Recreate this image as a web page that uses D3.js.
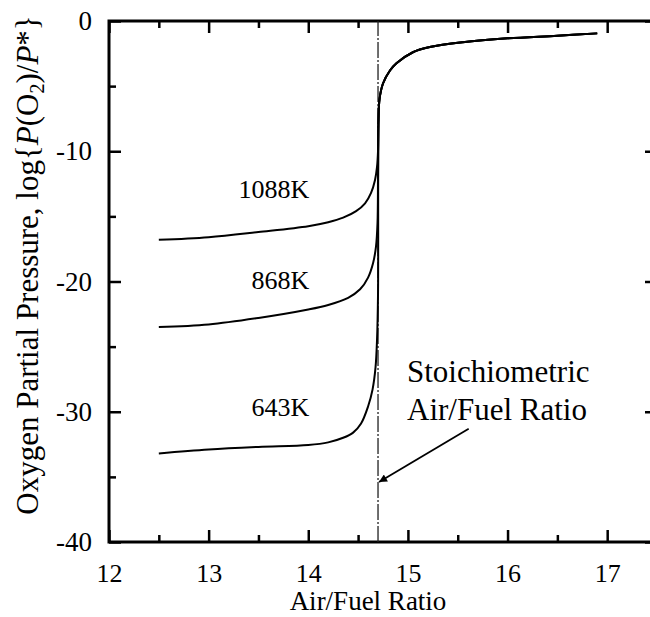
<!DOCTYPE html>
<html><head><meta charset="utf-8">
<script src="https://cdn.jsdelivr.net/npm/d3@7"></script>
<style>
body{margin:0;background:#fff;}
svg, svg text{font-family:"Liberation Serif","Times New Roman",Tinos,"DejaVu Serif",serif !important;}
</style></head>
<body><svg id="c" width="650" height="617"></svg>
<script>
// ---- data ----
const xMajorTicks = [12, 13, 14, 15, 16, 17];
const xMinorTicks = [12.5, 13.5, 14.5, 15.5, 16.5, 17.5];
const yMajorTicks = [0, -10, -20, -30, -40];
const yMinorTicks = [-5, -15, -25, -35];
const seriesNames = ["1088K", "868K", "643K"];
const rich1088X = [12.5, 13.0, 13.5, 14.0, 14.2, 14.35, 14.48, 14.57, 14.63, 14.67, 14.69, 14.70];
const rich1088Y = [-16.8, -16.6, -16.2, -15.75, -15.45, -15.1, -14.6, -14.0, -13.2, -12.2, -11.2, -10.0];
const rich868X = [12.5, 13.0, 13.5, 14.0, 14.2, 14.4, 14.52, 14.6, 14.65, 14.68, 14.695, 14.70];
const rich868Y = [-23.5, -23.3, -22.8, -22.15, -21.8, -21.25, -20.6, -19.7, -18.6, -17.3, -15.5, -12.0];
const rich643X = [12.5, 13.0, 13.5, 14.0, 14.2, 14.35, 14.45, 14.53, 14.6, 14.645, 14.675, 14.69, 14.70];
const rich643Y = [-33.2, -32.9, -32.7, -32.55, -32.35, -32.0, -31.6, -30.9, -29.6, -28.3, -26.6, -24.5, -21.0];
const leanX = [14.705, 14.715, 14.75, 14.82, 14.885, 15.05, 15.22, 15.55, 16.0, 16.5, 16.9];
const leanY = [-7.6, -6.0, -4.8, -3.8, -3.25, -2.4, -2.0, -1.63, -1.33, -1.13, -0.95];
const stoichRatio = 14.7;
const arrowFrom = [15.61, -31.3];
const arrowTo = [14.71, -35.4];
const labelAnchors = [[14.0, -13.6], [14.0, -20.6], [14.0, -30.3]]; // text end positions (data units)

// ---- layout ----
const FONT = '"Liberation Serif","Times New Roman",Tinos,"DejaVu Serif",serif';
const svg = d3.select("#c").attr("font-family", FONT);
const x = d3.scaleLinear().domain([12, 17.5]).range([109, 657]);
const y = d3.scaleLinear().domain([-40, 0]).range([542, 21]);
const X0 = x(12), X1 = x(17.5), Y0 = y(-40), Y1 = y(0);

// frame
svg.append("rect").attr("x", X0).attr("y", Y1).attr("width", X1 - X0).attr("height", Y0 - Y1)
  .attr("fill", "none").attr("stroke", "#000").attr("stroke-width", 3);

function styleAxis(g) {
  g.attr("font-family", FONT);
  g.select(".domain").remove();
  g.selectAll(".tick line").attr("stroke", "#000").attr("stroke-width", 2.5);
}
svg.append("g").attr("transform", `translate(0,${Y0})`)
  .call(d3.axisBottom(x).tickValues(xMajorTicks).tickSize(-12).tickPadding(22).tickFormat(d3.format("d")))
  .call(styleAxis)
  .call(g => g.selectAll("text").attr("font-size", 26).attr("fill", "#000"));
svg.append("g").attr("transform", `translate(0,${Y0})`)
  .call(d3.axisBottom(x).tickValues(xMinorTicks).tickSize(-7).tickFormat(""))
  .call(styleAxis);
svg.append("g").attr("transform", `translate(0,${Y1})`)
  .call(d3.axisTop(x).tickValues(xMajorTicks).tickSize(-12).tickFormat(""))
  .call(styleAxis);
svg.append("g").attr("transform", `translate(0,${Y1})`)
  .call(d3.axisTop(x).tickValues(xMinorTicks).tickSize(-7).tickFormat(""))
  .call(styleAxis);
svg.append("g").attr("transform", `translate(${X0},0)`)
  .call(d3.axisLeft(y).tickValues(yMajorTicks).tickSize(-12).tickPadding(17).tickFormat(d => d === 0 ? "0" : "-" + Math.abs(d)))
  .call(styleAxis)
  .call(g => g.selectAll("text").attr("font-size", 27).attr("fill", "#000"));
svg.append("g").attr("transform", `translate(${X0},0)`)
  .call(d3.axisLeft(y).tickValues(yMinorTicks).tickSize(-7).tickFormat(""))
  .call(styleAxis);
svg.append("g").attr("transform", `translate(${X1},0)`)
  .call(d3.axisRight(y).tickValues(yMajorTicks).tickSize(-12).tickFormat(""))
  .call(styleAxis);
svg.append("g").attr("transform", `translate(${X1},0)`)
  .call(d3.axisRight(y).tickValues(yMinorTicks).tickSize(-7).tickFormat(""))
  .call(styleAxis);

// stoichiometric dash-dot line
svg.append("line").attr("x1", x(stoichRatio)).attr("x2", x(stoichRatio))
  .attr("y1", Y0).attr("y2", Y1)
  .attr("stroke", "#222").attr("stroke-width", 1.3).attr("stroke-dasharray", "16,2,2,2");

// curves
const richX = [rich1088X, rich868X, rich643X];
const richY = [rich1088Y, rich868Y, rich643Y];
const line = d3.line().x(d => x(d[0])).y(d => y(d[1])).curve(d3.curveCatmullRom.alpha(0.5));
seriesNames.forEach((name, i) => {
  const pts = richX[i].map((v, k) => [v, richY[i][k]])
    .concat(leanX.map((v, k) => [v, leanY[k]]));
  svg.append("path").datum(pts).attr("d", line)
    .attr("fill", "none").attr("stroke", "#000").attr("stroke-width", 2);
  svg.append("text").attr("x", x(labelAnchors[i][0]) + 1).attr("y", y(labelAnchors[i][1]))
    .attr("text-anchor", "end").attr("font-size", 26).text(name);
});

// annotation
const ann = svg.append("text").attr("font-size", 31);
ann.append("tspan").attr("x", 407).attr("y", 382).text("Stoichiometric");
ann.append("tspan").attr("x", 407).attr("y", 420).text("Air/Fuel Ratio");

svg.append("defs").append("marker").attr("id", "ah").attr("viewBox", "0 0 10 10")
  .attr("refX", 10).attr("refY", 5).attr("markerWidth", 14).attr("markerHeight", 8)
  .attr("markerUnits", "userSpaceOnUse").attr("orient", "auto")
  .append("path").attr("d", "M0,0 L10,5 L0,10 Z").attr("fill", "#000");
svg.append("line")
  .attr("x1", x(arrowFrom[0])).attr("y1", y(arrowFrom[1]))
  .attr("x2", x(arrowTo[0])).attr("y2", y(arrowTo[1]))
  .attr("stroke", "#000").attr("stroke-width", 1.8).attr("marker-end", "url(#ah)");

// axis titles
svg.append("text").attr("x", 368).attr("y", 610).attr("text-anchor", "middle")
  .attr("font-size", 27).text("Air/Fuel Ratio");
const yt = svg.append("text").attr("transform", "translate(38,265) rotate(-90)")
  .attr("text-anchor", "middle").attr("font-size", 31);
yt.append("tspan").text("Oxygen Partial Pressure, log{");
yt.append("tspan").attr("font-style", "italic").text("P");
yt.append("tspan").text("(O");
yt.append("tspan").attr("font-size", 20).attr("dy", 6).text("2");
yt.append("tspan").attr("dy", -6).text(")/");
yt.append("tspan").attr("font-style", "italic").text("P");
yt.append("tspan").text("*}");
</script></body></html>
